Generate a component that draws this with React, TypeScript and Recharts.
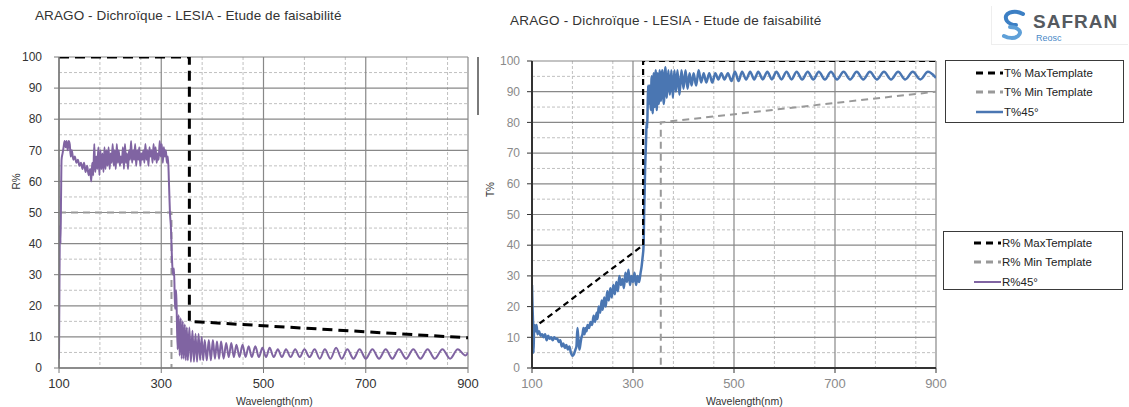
import React from 'react';
import { LineChart, Line, XAxis, YAxis, CartesianGrid } from 'recharts';

const TITLE = 'ARAGO - Dichroïque - LESIA - Etude de faisabilité';
const xTicks = [100, 300, 500, 700, 900];
const yTicks = [0, 10, 20, 30, 40, 50, 60, 70, 80, 90, 100];
const xMajor = [100, 300, 500, 700, 900];
const xMinor = [140, 180, 220, 260, 340, 380, 420, 460, 540, 580, 620, 660, 740, 780, 820, 860];
const yMajor = [0, 10, 20, 30, 40, 50, 60, 70, 80, 90, 100];
const yMinor = [5, 15, 25, 35, 45, 55, 65, 75, 85, 95];

const rLegend = ['R% MaxTemplate', 'R% Min Template', 'R%45°'];
const tLegend = ['T% MaxTemplate', 'T% Min Template', 'T%45°'];

// Left chart: reflection (R%)
const rMaxTemplate: [number, number][] = [[100, 100], [355, 100], [355, 15], [900, 9.7]];
const rMinTemplate: [number, number][] = [[100, 50], [320, 50], [320, 0]];
const r45: [number, number][] = [
  [100, 3], [101, 30], [102, 46], [103, 40], [104, 55], [105, 67], [107, 69], [109, 71], [111, 73], [113, 71],
  [115, 73], [117, 70], [119, 73], [121, 72], [123, 68], [125, 70], [128, 67], [131, 68], [134, 66], [137, 67],
  [140, 65], [143, 66], [146, 64], [149, 66], [152, 63], [155, 65], [158, 62], [161, 64], [163, 60], [165, 66],
  [167, 62], [169, 72], [171, 63], [173, 68], [175, 64], [177, 71], [179, 62], [181, 70], [183, 64], [185, 69],
  [187, 63], [189, 71], [191, 64], [193, 70], [195, 65], [197, 71], [199, 64], [201, 69], [203, 66], [205, 72],
  [207, 65], [209, 70], [211, 64], [213, 72], [215, 66], [217, 70], [219, 65], [221, 68], [223, 66], [225, 71],
  [227, 64], [229, 72], [231, 66], [233, 69], [235, 64], [237, 70], [239, 67], [241, 73], [243, 66], [245, 70],
  [247, 67], [249, 72], [251, 65], [253, 70], [255, 67], [257, 71], [259, 65], [261, 69], [263, 67], [265, 70],
  [267, 66], [269, 72], [271, 67], [273, 70], [275, 65], [277, 71], [279, 68], [281, 70], [283, 66], [285, 72],
  [287, 67], [289, 71], [291, 66], [293, 69], [295, 67], [297, 73], [299, 68], [301, 72], [303, 66], [305, 71],
  [307, 68], [309, 70], [311, 66], [313, 68], [315, 60], [317, 50], [319, 45], [321, 35], [323, 30], [325, 32],
  [327, 19], [329, 25], [330, 20], [332, 6], [334, 17], [336, 4], [338, 16], [340, 3], [342, 15], [344, 3],
  [346, 14], [348, 2.5], [350, 13], [352, 2.5], [355, 13], [358, 2], [361, 12], [364, 2], [367, 11], [370, 2],
  [373, 11], [376, 2.5], [379, 10], [382, 2.5], [385, 9], [389, 2.5], [393, 9], [397, 2.5], [401, 9], [405, 3],
  [409, 8.5], [413, 3], [417, 8.5], [422, 3], [427, 8], [432, 3.5], [437, 8], [442, 3.5], [447, 7.5], [453, 3.5],
  [459, 7.5], [465, 3.5], [471, 7], [477, 3.5], [484, 7], [491, 3.5], [498, 6.5], [505, 3.5], [512, 6.5], [520, 3.5],
  [528, 6], [536, 3.5], [544, 6], [553, 3.5], [562, 6], [571, 3.5], [580, 6], [590, 3.5], [600, 6], [610, 3],
  [620, 6], [631, 3], [642, 6.5], [653, 3], [664, 6], [676, 3], [688, 6], [700, 3], [713, 6], [726, 3],
  [739, 6], [752, 3], [765, 6], [779, 3], [793, 6], [807, 3], [821, 6], [835, 3], [850, 6], [865, 3],
  [880, 6], [895, 4], [900, 5],
];

// Right chart: transmission (T%)
const tMaxTemplate: [number, number][] = [[115, 14.5], [320, 40], [320, 100], [900, 100]];
const tMinTemplate: [number, number][] = [[100, 0], [355, 0], [355, 80], [900, 90]];
const t45: [number, number][] = [
  [100, 27], [101, 20], [102, 15], [103, 5], [104, 12], [105, 14], [107, 12], [109, 14], [111, 11], [114, 12],
  [117, 10.5], [120, 11], [123, 10], [126, 11], [129, 9], [132, 10.5], [135, 9.5], [138, 10], [141, 9], [144, 10],
  [147, 9.5], [150, 9.5], [153, 8.5], [156, 9], [159, 7], [162, 8], [165, 6.5], [168, 7.5], [171, 6], [174, 7],
  [177, 5], [180, 4], [183, 4.5], [186, 6], [188, 7], [190, 13], [192, 9], [194, 6], [196, 8], [198, 10],
  [200, 11], [202, 13], [204, 11], [206, 13], [208, 12], [210, 14], [213, 13], [216, 15], [219, 14], [222, 17],
  [225, 15], [228, 18], [230, 16], [232, 20], [235, 18], [238, 22], [240, 19], [243, 23], [246, 20], [249, 25],
  [252, 22], [255, 26], [258, 23], [261, 27], [264, 24], [267, 28], [270, 25], [273, 30], [276, 27], [279, 29],
  [282, 26], [285, 31], [288, 28], [291, 32], [294, 27], [297, 30], [300, 28], [303, 31], [306, 27], [309, 30],
  [312, 28], [315, 31], [317, 33], [319, 36], [321, 40], [322, 50], [323, 57], [324, 65], [325, 70], [326, 75],
  [327, 80], [328, 78], [329, 85], [330, 92], [331, 86], [333, 92], [335, 84], [337, 95], [339, 83], [341, 96],
  [343, 85], [345, 97], [347, 84], [349, 96], [351, 86], [353, 97], [355, 87], [358, 97], [361, 86], [364, 98],
  [367, 88], [370, 97], [373, 89], [376, 97], [379, 88], [382, 97], [385, 90], [388, 97], [392, 89], [396, 97],
  [400, 91], [404, 97], [408, 91], [412, 96], [416, 92], [420, 96], [425, 92], [430, 97], [435, 93], [440, 96],
  [445, 93], [451, 96], [457, 93], [463, 96], [469, 94], [475, 96], [481, 94], [488, 96], [495, 93.5], [502, 96.5],
  [509, 93.5], [516, 96.5], [524, 94], [532, 96.5], [540, 94], [548, 96.5], [557, 94], [566, 96.5], [575, 94], [584, 96.5],
  [594, 94], [604, 96.5], [614, 94], [624, 96.5], [635, 94], [646, 96.5], [657, 94], [668, 96.5], [680, 94], [692, 96.5],
  [704, 94], [717, 96.5], [730, 94], [743, 96.5], [756, 94], [769, 96.5], [783, 94], [797, 96.5], [811, 94], [825, 96.5],
  [839, 94], [854, 96.5], [869, 94], [884, 96.5], [900, 94.5],
];

const toData = (arr: [number, number][]) => arr.map(([x, y]) => ({ x, y }));

const FONT = '"Liberation Sans", Arial, sans-serif';
const PURPLE = '#8064A2';
const BLUE = '#4A76B2';

interface PanelProps {
  left: number;
  marginLeft: number;
  marginRight: number;
  marginTop: number;
  tickColor: string;
  axisColor: string;
  axisWidth: number;
  tickMarginY: number;
  maxT: [number, number][];
  minT: [number, number][];
  curve: [number, number][];
  curveColor: string;
  curveWidth: number;
  maxDash: string;
  maxWidth: number;
}

function Panel(p: PanelProps) {
  return (
    <div style={{ position: 'absolute', left: p.left, top: 0 }}>
      <LineChart
        width={480}
        height={407}
        margin={{ top: p.marginTop, right: p.marginRight, bottom: 9, left: p.marginLeft }}
      >
        <CartesianGrid
          stroke="#c0c0c0"
          strokeDasharray="3 2"
          horizontalValues={yMinor}
          verticalValues={xMinor}
        />
        <CartesianGrid stroke="#888888" strokeWidth={1.2} horizontalValues={yMajor} verticalValues={xMajor} />
        <XAxis
          type="number"
          dataKey="x"
          domain={[100, 900]}
          ticks={xTicks}
          allowDataOverflow
          axisLine={{ stroke: p.axisColor, strokeWidth: p.axisWidth }}
          tickLine={{ stroke: p.axisColor }}
          tickSize={5}
          tickMargin={6}
          height={30}
          tick={{ fill: p.tickColor, fontSize: 13, fontFamily: FONT }}
        />
        <YAxis
          type="number"
          domain={[0, 100]}
          ticks={yTicks}
          allowDataOverflow
          width={30}
          axisLine={{ stroke: p.axisColor, strokeWidth: p.axisWidth }}
          tickLine={{ stroke: p.axisColor }}
          tickSize={5}
          tickMargin={p.tickMarginY}
          tick={{ fill: p.tickColor, fontSize: 12, fontFamily: FONT }}
        />
        <Line
          data={toData(p.minT)}
          dataKey="y"
          type="linear"
          stroke="#999999"
          strokeWidth={2}
          strokeDasharray="7 5"
          dot={false}
          isAnimationActive={false}
        />
        <Line
          data={toData(p.curve)}
          dataKey="y"
          type="monotone"
          stroke={p.curveColor}
          strokeWidth={p.curveWidth}
          dot={false}
          isAnimationActive={false}
        />
        <Line
          data={toData(p.maxT)}
          dataKey="y"
          type="linear"
          stroke="#000000"
          strokeWidth={p.maxWidth}
          strokeDasharray={p.maxDash}
          dot={false}
          isAnimationActive={false}
        />
      </LineChart>
    </div>
  );
}

function LegendBox(props: {
  left: number;
  top: number;
  width: number;
  height: number;
  names: string[];
  colors: string[];
  dashes: (string | undefined)[];
  widths: number[];
  rows: number[];
}) {
  return (
    <div
      style={{
        position: 'absolute',
        left: props.left,
        top: props.top,
        width: props.width,
        height: props.height,
        border: '1.5px solid #3a3a3a',
        background: '#fff',
        boxSizing: 'border-box',
      }}
    >
      {props.names.map((n, i) => (
        <div
          key={n}
          style={{
            position: 'absolute',
            left: 30,
            top: props.rows[i] - 8,
            height: 16,
            display: 'flex',
            alignItems: 'center',
            fontFamily: FONT,
            fontSize: 11.5,
            color: '#222',
            whiteSpace: 'nowrap',
          }}
        >
          <svg width={27} height={8} style={{ marginRight: 1 }}>
            <line
              x1={0}
              y1={4}
              x2={27}
              y2={4}
              stroke={props.colors[i]}
              strokeWidth={props.widths[i]}
              strokeDasharray={props.dashes[i]}
            />
          </svg>
          <span>{n}</span>
        </div>
      ))}
    </div>
  );
}

export default function App() {
  return (
    <div style={{ position: 'absolute', left: 0, top: 0, width: 1129, height: 407, background: '#fff', overflow: 'hidden' }}>
      <Panel
        left={0}
        marginLeft={29}
        marginRight={12}
        marginTop={57}
        tickColor="#333"
        axisColor="#7a7a7a"
        axisWidth={1.5}
        tickMarginY={12}
        maxT={rMaxTemplate}
        minT={rMinTemplate}
        curve={r45}
        curveColor={PURPLE}
        curveWidth={2}
        maxDash="10 6"
        maxWidth={3}
      />
      <Panel
        left={470}
        marginLeft={32}
        marginRight={14}
        marginTop={61}
        tickColor="#8a8a8a"
        axisColor="#333"
        axisWidth={2}
        tickMarginY={7}
        maxT={tMaxTemplate}
        minT={tMinTemplate}
        curve={t45}
        curveColor={BLUE}
        curveWidth={2.5}
        maxDash="6 4"
        maxWidth={2.2}
      />

      <div style={{ position: 'absolute', left: 35, top: 8, fontFamily: FONT, fontSize: 13.5, color: '#333', whiteSpace: 'nowrap', letterSpacing: 0.1 }}>
        {TITLE}
      </div>
      <div style={{ position: 'absolute', left: 510, top: 13, fontFamily: FONT, fontSize: 13.5, color: '#333', whiteSpace: 'nowrap', letterSpacing: 0.2 }}>
        {TITLE}
      </div>

      <div style={{ position: 'absolute', left: 236, top: 395, fontFamily: FONT, fontSize: 10.5, color: '#333', whiteSpace: 'nowrap' }}>
        Wavelength(nm)
      </div>
      <div style={{ position: 'absolute', left: 706, top: 395, fontFamily: FONT, fontSize: 10.5, color: '#333', whiteSpace: 'nowrap' }}>
        Wavelength(nm)
      </div>
      <div style={{ position: 'absolute', left: 5, top: 176, width: 22, textAlign: 'center', transform: 'rotate(-90deg)', fontFamily: FONT, fontSize: 10, color: '#333' }}>
        R%
      </div>
      <div style={{ position: 'absolute', left: 479, top: 184, width: 22, textAlign: 'center', transform: 'rotate(-90deg)', fontFamily: FONT, fontSize: 10, color: '#333' }}>
        T%
      </div>

      <div style={{ position: 'absolute', left: 477, top: 57, width: 2, height: 58, background: '#7a7a7a' }} />

      <LegendBox
        left={945}
        top={60}
        width={179}
        height={63}
        names={tLegend}
        colors={['#000', '#999', BLUE]}
        dashes={['7 5', '7 5', undefined]}
        widths={[3, 3, 2.5]}
        rows={[12, 31, 51]}
      />
      <LegendBox
        left={943}
        top={231}
        width={180}
        height={59}
        names={rLegend}
        colors={['#000', '#999', PURPLE]}
        dashes={['7 5', '7 5', undefined]}
        widths={[3, 3, 2]}
        rows={[11, 30, 50]}
      />

      <div style={{ position: 'absolute', left: 991, top: 6, width: 136, height: 38, background: '#fff', borderLeft: '1px solid #eee', borderBottom: '1px solid #eee' }}>
        <svg width={40} height={38} style={{ position: 'absolute', left: 4, top: 0 }}>
          <path d="M27 8 C 18 3, 6 7, 11 15 C 13 18, 18 19, 20 19" stroke="#3c7fc4" strokeWidth={4} fill="none" strokeLinecap="round" />
          <path d="M14 21 C 22 21, 27 26, 22 30 C 18 33, 12 32, 8 30" stroke="#5fa0d8" strokeWidth={4} fill="none" strokeLinecap="round" />
        </svg>
        <div style={{ position: 'absolute', left: 41, top: 5, fontFamily: FONT, fontWeight: 'bold', fontSize: 19, color: '#555a5f', letterSpacing: 1 }}>
          SAFRAN
        </div>
        <div style={{ position: 'absolute', left: 44, top: 27, fontFamily: FONT, fontSize: 9, color: '#4a8ac8' }}>
          Reosc
        </div>
      </div>
    </div>
  );
}
